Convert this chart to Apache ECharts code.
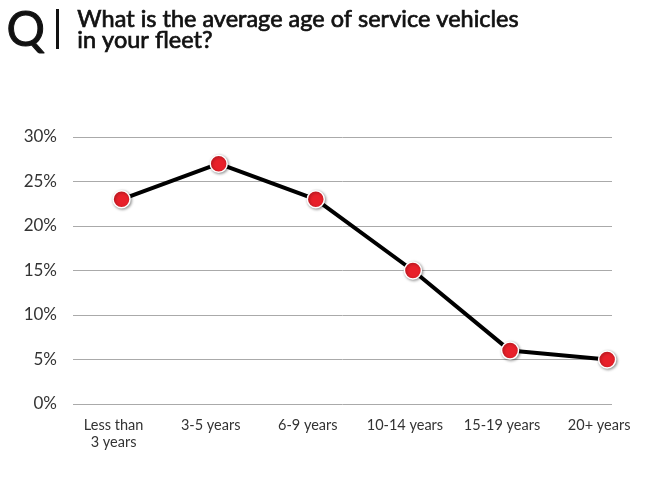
<!DOCTYPE html>
<html><head><meta charset="utf-8">
<script src="https://cdn.jsdelivr.net/npm/echarts@6/dist/echarts.min.js"></script>
<style>html,body{margin:0;padding:0;background:#fff}#c{width:650px;height:483px}</style>
</head><body><div id="c"></div>
<script>
const categories = ['Less than\n3 years', '3-5 years', '6-9 years', '10-14 years', '15-19 years', '20+ years'];
const values = [23, 27, 23, 15, 6, 5];
const yTicks = [0, 5, 10, 15, 20, 25, 30];

const chart = echarts.init(document.getElementById('c'));
chart.setOption({
  animation: false,
  backgroundColor: '#fff',
  graphic: [
    { type: 'text', left: 6, top: 6, style: { text: 'Q', font: '48px Lato', fill: '#111', stroke: '#111', lineWidth: 1 } },
    { type: 'rect', shape: { x: 56, y: 9, width: 3, height: 40 }, style: { fill: '#111' } },
    { type: 'text', left: 77, top: 7, style: { text: 'What is the average age of service vehicles\nin your fleet?', font: '23.5px Lato', lineHeight: 21, fill: '#111', stroke: '#111', lineWidth: 0.7 } }
  ],
  grid: { left: 73, right: 38, top: 137, bottom: 79 },
  xAxis: {
    type: 'value', min: -0.5, max: 5.05,
    splitLine: { show: false },
    axisLine: { show: false },
    axisTick: { show: false },
    axisLabel: {
      customValues: categories.map((c, i) => i),
      formatter: v => categories[Math.round(v)] || '',
      fontFamily: 'Lato', fontSize: 14.5, color: '#333', lineHeight: 17, margin: 13,
      padding: [0, 16, 0, 0]
    }
  },
  yAxis: {
    type: 'value', min: 0, max: 30, interval: 5,
    axisLine: { show: false }, axisTick: { show: false },
    axisLabel: { formatter: v => yTicks.includes(v) ? v + '%' : '', fontFamily: 'Lato', fontSize: 17, color: '#333', margin: 16 },
    splitLine: { lineStyle: { color: '#aaa', width: 1 } }
  },
  series: [{
    type: 'line',
    data: values.map((v, i) => [i, v]),
    lineStyle: { color: '#000', width: 4 },
    symbol: 'circle', symbolSize: 17,
    itemStyle: { color: '#e8202a', borderColor: '#fff', borderWidth: 1.5, shadowColor: 'rgba(0,0,0,0.4)', shadowBlur: 3, shadowOffsetX: 1, shadowOffsetY: 1 }
  }]
});
</script></body></html>
